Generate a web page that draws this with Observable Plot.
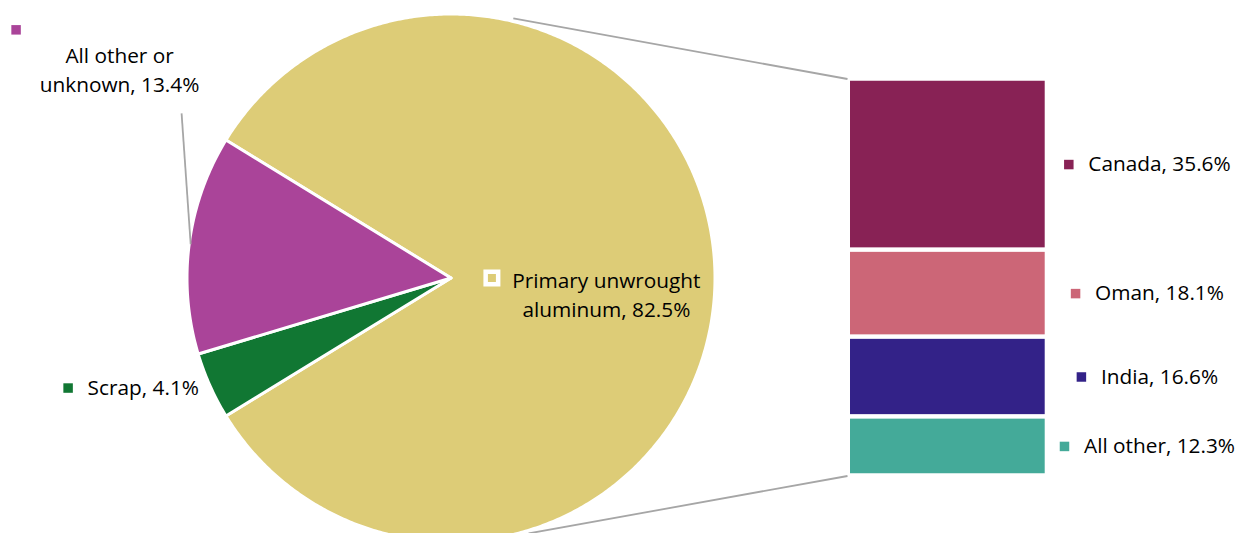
<!DOCTYPE html>
<html>
<head>
<meta charset="utf-8">
<script src="https://cdn.jsdelivr.net/npm/d3@7"></script>
<script src="https://cdn.jsdelivr.net/npm/@observablehq/plot@0.6"></script>
<style>
  html, body { margin: 0; padding: 0; background: #fff; overflow: hidden; }
  #chart svg { display: block; }
</style>
</head>
<body>
<div id="chart"></div>
<script>
// ---------------- data ----------------
const pieCategories = ["Primary unwrought aluminum", "Scrap", "All other or unknown"];
const pieShares = [82.5, 4.1, 13.4];
const barCategories = ["Canada", "Oman", "India", "All other"];
const barShares = [35.6, 18.1, 16.6, 12.3];

// ---------------- styles ----------------
const colorOf = {
  "Primary unwrought aluminum": "#DDCC77",
  "Scrap": "#117733",
  "All other or unknown": "#AA4499",
  "Canada": "#882255",
  "Oman": "#CC6677",
  "India": "#332288",
  "All other": "#44AA99"
};
const FONT = "'Open Sans', sans-serif";
const FS = 20.8;
const TEXT = "#000";
const LINE = "#A6A6A6";

// ---------------- layout ----------------
const W = 1236, H = 533;
const barTopPx = 78.5, barBottomPx = 475.5, barLeftPx = 850, barRightPx = 1044.7;
const barTotal = d3.sum(barShares);
const PX = (barBottomPx - barTopPx) / barTotal;   // pixels per unit
const ux = px => px / PX;
const uy = py => (py - barTopPx) / PX;
const pie = {cx: 450.5, cy: 277.5, r: 262.5, stroke: 3};
const polar = (deg, rf) => {
  const a = deg * Math.PI / 180;
  return [pie.cx + rf * pie.r * Math.sin(a), pie.cy - rf * pie.r * Math.cos(a)];
};
const pieLabelWrap = {
  "Primary unwrought aluminum": "Primary unwrought\naluminum",
  "All other or unknown": "All other or\nunknown"
};
const pieLabelLayout = {
  "Primary unwrought aluminum": {dAngle: 5.7, rf: 0.595, anchor: "middle", marker: [-114.5, -15.5]},
  "Scrap": {dAngle: 7.2, rf: 1.447, anchor: "start", marker: [-19.5, -0.5]},
  "All other or unknown": {dAngle: 25.0, rf: 1.495, anchor: "middle", marker: [-103.5, -38], leader: [62, 45.5]}
};
const connectorAngles = [{deg: 13.5, rf: 1.017, end: 0}, {deg: 163.1, rf: 1.017, end: barTotal}];
const connectorEndPx = 847;
const barLabelCenterPx = 1159;
const markerGap = 19.5;

// ---------------- derived ----------------
const pieTotal = d3.sum(pieShares);
const start = Math.PI / 2 - (pieShares[0] / pieTotal) * Math.PI; // main slice centred at 3 o'clock
const arcs = d3.pie().sort(null).startAngle(start).endAngle(start + 2 * Math.PI)(pieShares);

const R = pie.r + pie.stroke / 2;
const piePts = arcs.flatMap((a, i) => {
  const name = pieCategories[i];
  const pts = [{name, x: ux(pie.cx), y: uy(pie.cy)}];
  const n = Math.max(2, Math.ceil((a.endAngle - a.startAngle) / (Math.PI / 360)));
  for (let k = 0; k <= n; k++) {
    const t = a.startAngle + (a.endAngle - a.startAngle) * k / n;
    pts.push({name, x: ux(pie.cx + R * Math.sin(t)), y: uy(pie.cy - R * Math.cos(t))});
  }
  return pts;
});

const pieRows = arcs.map((a, i) => {
  const name = pieCategories[i];
  const lay = pieLabelLayout[name];
  const mid = ((a.startAngle + a.endAngle) / 2) * 180 / Math.PI;
  const [ax, ay] = polar(mid + lay.dAngle, lay.rf);
  const row = {
    name,
    label: (pieLabelWrap[name] ?? name) + ", " + pieShares[i].toFixed(1) + "%",
    anchor: lay.anchor,
    x: ux(ax), y: uy(ay),
    mx: ux(ax + lay.marker[0]), my: uy(ay + lay.marker[1])
  };
  if (lay.leader) {
    const [ex, ey] = polar(mid, 1);
    row.leader = {x1: ux(ax + lay.leader[0]), y1: uy(ay + lay.leader[1]), x2: ux(ex), y2: uy(ey)};
  }
  return row;
});

const ctx = document.createElement("canvas").getContext("2d");
ctx.font = `${FS}px ${FONT}`;
let acc = 0;
const barRows = barCategories.map((name, i) => {
  const y1 = acc; acc += barShares[i];
  const label = `${name}, ${barShares[i].toFixed(1)}%`;
  const w = ctx.measureText(label).width;
  return {name, y1, y2: acc, mid: (y1 + acc) / 2, label,
          mx: ux(barLabelCenterPx - w / 2 - markerGap)};
});

const connectors = connectorAngles.map(c => {
  const [sx, sy] = polar(c.deg, c.rf);
  return {x1: ux(sx), y1: uy(sy), x2: ux(connectorEndPx), y2: c.end};
});

const leaders = pieRows.filter(d => d.leader).map(d => d.leader);
const markerSide = 9.5, r = markerSide / Math.sqrt(Math.PI);

const chart = Plot.plot({
  width: W, height: H,
  margin: 0,
  style: {fontFamily: FONT, background: "#fff", overflow: "hidden"},
  x: {domain: [0, ux(W)], range: [0, W], axis: null},
  y: {domain: [uy(0), uy(H)], range: [0, H], axis: null},
  color: {domain: Object.keys(colorOf), range: Object.values(colorOf)},
  marks: [
    Plot.line(piePts, {x: "x", y: "y", z: "name", fill: "name", stroke: "white",
      strokeWidth: pie.stroke, curve: "linear-closed"}),
    Plot.rect(barRows, {x1: () => ux(barLeftPx), x2: () => ux(barRightPx), y1: "y1", y2: "y2",
      fill: "name", insetTop: 2.25, insetBottom: 2.25}),
    Plot.link(connectors, {x1: "x1", y1: "y1", x2: "x2", y2: "y2", stroke: LINE, strokeWidth: 1.8}),
    Plot.link(leaders, {x1: "x1", y1: "y1", x2: "x2", y2: "y2", stroke: LINE, strokeWidth: 1.8}),
    // pie label keys
    Plot.dot(pieRows.filter(d => d.name !== pieCategories[0]),
      {x: "mx", y: "my", symbol: "square", r, fill: "name"}),
    Plot.dot(pieRows.filter(d => d.name === pieCategories[0]),
      {x: "mx", y: "my", symbol: "square", r: 12.5 / Math.sqrt(Math.PI), fill: "name",
       stroke: "white", strokeWidth: 4.5}),
    Plot.text(pieRows.filter(d => d.anchor === "middle"),
      {x: "x", y: "y", text: "label", textAnchor: "middle", lineHeight: 1.4,
       fontSize: FS, fill: TEXT}),
    Plot.text(pieRows.filter(d => d.anchor === "start"),
      {x: "x", y: "y", text: "label", textAnchor: "start", fontSize: FS, fill: TEXT}),
    // bar labels
    Plot.dot(barRows, {x: "mx", y: "mid", symbol: "square", r, fill: "name"}),
    Plot.text(barRows, {x: () => ux(barLabelCenterPx), y: "mid", text: "label",
      textAnchor: "middle", fontSize: FS, fill: TEXT})
  ]
});
document.getElementById("chart").appendChild(chart);
</script>
</body>
</html>
